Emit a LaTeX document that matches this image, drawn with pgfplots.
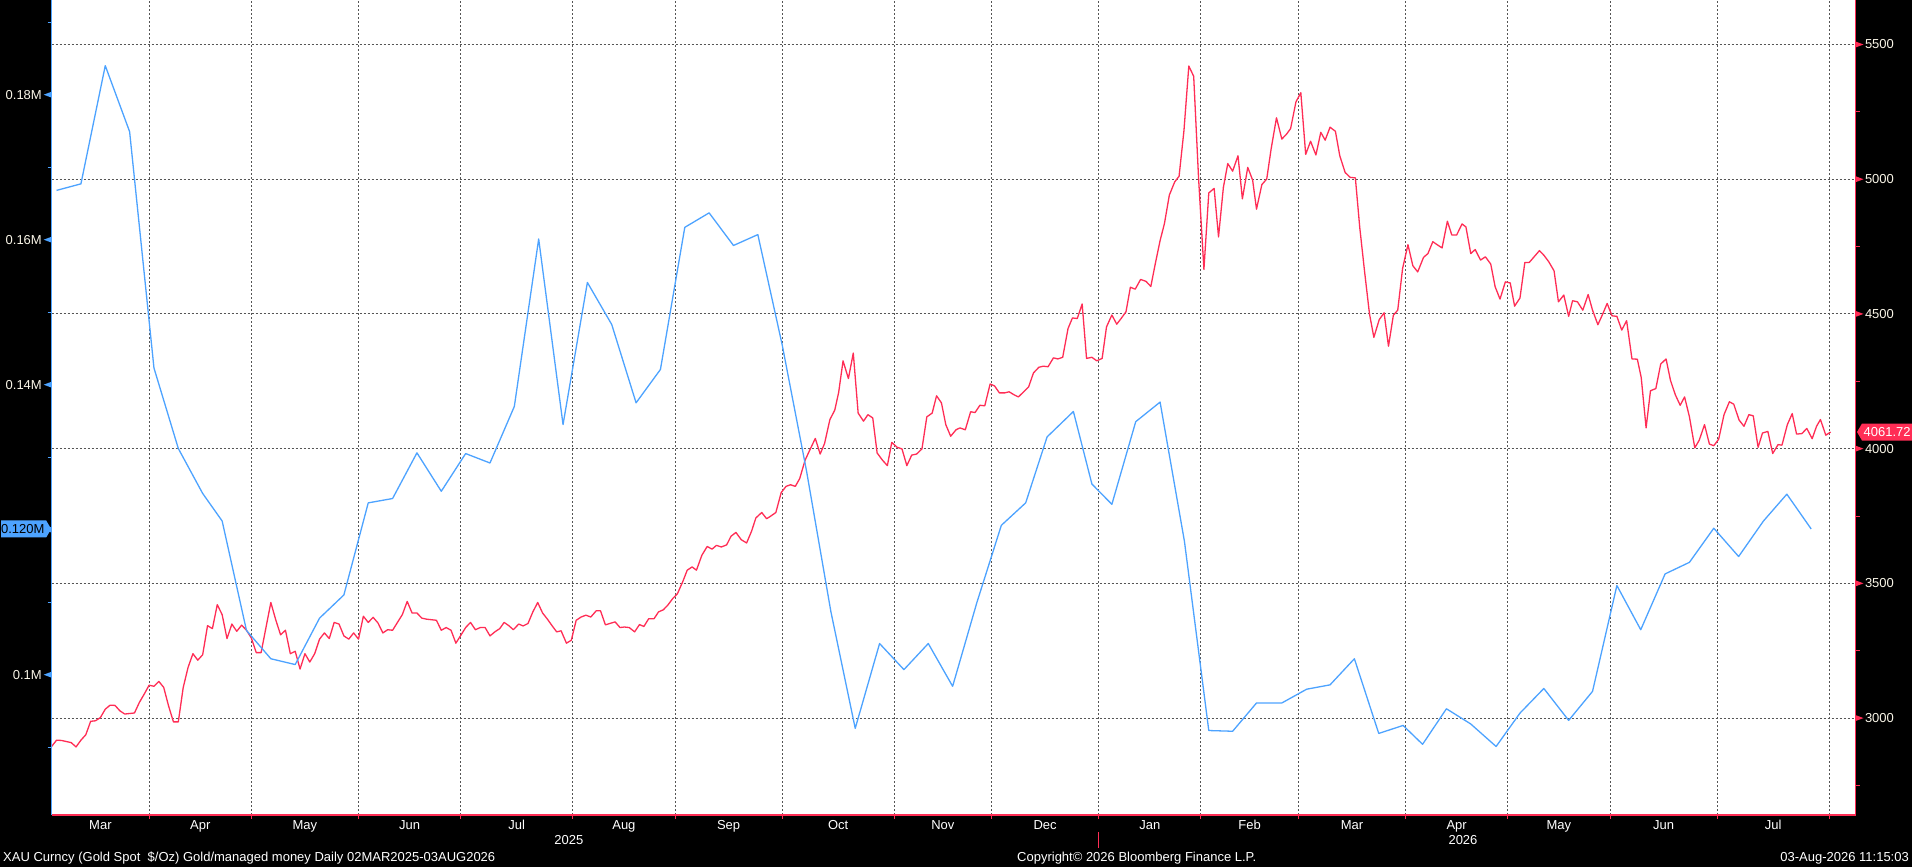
\documentclass[border=0pt]{standalone}
\usepackage{fontspec}
\setmainfont{Liberation Sans}
\usepackage{pgfplots}
\usepackage{pgfplotstable}
\pgfplotsset{compat=1.18}
\definecolor{bblue}{RGB}{77,163,255}
\definecolor{bred}{RGB}{255,45,85}
\definecolor{gridc}{RGB}{85,85,85}
\definecolor{lblc}{RGB}{250,246,232}
\newcommand\bfnt{\fontsize{13}{15}\selectfont}

% Gold spot (XAU), x = trading-day index from 03 Mar 2025
\pgfplotstableread{
x y
0 2895
1 2918
2 2917
4 2909
5 2893
6 2918
7 2938
8 2988
9 2990
10 3002
11 3033
12 3048
13 3047
14 3027
15 3015
16 3017
17 3019
18 3058
19 3089
20 3122
21 3118
22 3136
23 3114
24 3045
25 2986
26 2986
27 3113
28 3188
29 3239
30 3215
31 3235
32 3343
33 3332
34 3421
35 3384
36 3295
37 3349
38 3322
39 3345
40 3326
41 3297
42 3243
43 3243
44 3336
45 3429
46 3365
47 3309
48 3326
49 3239
50 3248
51 3182
52 3239
53 3208
54 3239
55 3293
56 3316
57 3295
58 3355
59 3349
60 3305
61 3293
62 3316
63 3293
64 3378
65 3355
66 3374
67 3353
68 3316
69 3328
70 3326
71 3355
72 3384
73 3433
74 3390
75 3390
76 3371
77 3367
79 3363
80 3326
81 3336
82 3326
83 3278
84 3307
85 3336
86 3355
87 3328
88 3336
89 3336
90 3305
91 3320
92.0 3332
92.9 3355
93.8 3344
94.8 3328
95.9 3349
96.8 3342
97.8 3351
98.8 3394
99.8 3429
100.8 3390
101.8 3367
102.7 3344
103.7 3320
104.6 3324
105.7 3278
106.7 3289
107.7 3363
108.7 3375
109.7 3382
110.7 3375
111.8 3398
112.7 3398
113.7 3346
114.6 3351
115.7 3357
116.7 3336
117.6 3338
118.6 3336
119.7 3320
120.7 3347
121.6 3340
122.6 3369
123.7 3369
124.6 3394
125.6 3402
126.5 3419
127.5 3443
128.5 3462
129.6 3507
130.5 3549
131.5 3561
132.4 3549
133.5 3604
134.6 3637
135.6 3627
136.5 3641
137.5 3635
138.6 3643
139.5 3675
140.5 3689
141.6 3662
142.7 3650
143.7 3693
144.6 3743
145.8 3763
146.8 3740
147.6 3749
148.7 3763
149.8 3837
150.8 3860
151.7 3866
152.7 3860
153.6 3889
154.7 3957
155.7 3996
156.8 4038
157.8 3980
158.7 4019
159.8 4108
160.8 4143
161.6 4209
162.5 4326
163.6 4260
164.6 4355
165.6 4132
166.7 4102
167.6 4126
168.6 4114
169.5 3984
170.6 3957
171.6 3937
172.5 4023
173.6 4005
174.6 3999
175.6 3937
176.6 3976
177.6 3980
178.7 3999
179.7 4118
180.8 4132
181.7 4196
182.7 4170
183.6 4089
184.6 4046
185.7 4070
186.5 4077
187.6 4070
188.7 4137
189.6 4134
190.6 4161
191.6 4159
192.7 4240
193.6 4233
194.6 4207
195.7 4207
196.6 4211
197.6 4200
198.5 4192
199.6 4211
200.6 4229
201.6 4281
202.7 4302
203.6 4306
204.6 4304
205.7 4337
206.6 4333
207.6 4339
208.7 4446
209.6 4485
210.6 4483
211.6 4537
212.5 4335
213.6 4339
214.6 4326
215.7 4335
216.6 4452
217.7 4496
218.7 4462
219.6 4483
220.6 4508
221.5 4599
222.5 4592
223.6 4628
224.7 4621
225.7 4602
226.6 4685
227.6 4772
228.5 4836
229.5 4941
230.6 4990
231.5 5011
232.5 5180
233.5 5420
234.5 5382
235.5 5005
236.6 4665
237.6 4949
238.7 4966
239.6 4786
240.6 4970
241.5 5058
242.5 5030
243.6 5087
244.5 4927
245.6 5044
246.6 4997
247.4 4889
248.5 4980
249.5 5001
250.4 5112
251.5 5228
252.6 5149
253.6 5168
254.4 5188
255.5 5287
256.5 5321
257.5 5092
258.5 5141
259.6 5090
260.6 5174
261.5 5145
262.5 5193
263.6 5178
264.5 5087
265.6 5025
266.6 5007
267.7 5005
268.6 4821
269.6 4656
270.6 4500
271.5 4413
272.6 4479
273.6 4504
274.5 4380
275.5 4495
276.4 4514
277.4 4669
278.5 4757
279.5 4679
280.5 4656
281.7 4710
282.6 4724
283.6 4768
284.5 4757
285.5 4745
286.6 4844
287.5 4793
288.5 4793
289.6 4834
290.4 4823
291.4 4724
292.3 4739
293.4 4700
294.4 4712
295.5 4685
296.4 4601
297.4 4555
298.5 4619
299.5 4615
300.4 4529
301.5 4559
302.5 4691
303.4 4691
304.5 4714
305.5 4735
306.4 4718
307.4 4694
308.5 4660
309.4 4545
310.5 4570
311.5 4491
312.3 4549
313.3 4545
314.4 4514
315.5 4572
316.4 4514
317.5 4460
318.5 4500
319.4 4539
320.4 4493
321.4 4491
322.4 4440
323.4 4475
324.5 4333
325.6 4332
326.4 4264
327.4 4077
328.3 4215
329.4 4223
330.4 4314
331.5 4333
332.4 4254
333.4 4200
334.4 4161
335.3 4192
336.3 4118
337.4 4003
338.3 4031
339.4 4089
340.4 4017
341.3 4011
342.3 4035
343.4 4126
344.5 4174
345.4 4165
346.5 4106
347.5 4083
348.5 4126
349.4 4122
350.4 4005
351.3 4058
352.4 4064
353.4 3982
354.5 4015
355.3 4013
356.4 4089
357.4 4130
358.3 4054
359.4 4056
360.4 4075
361.5 4037
362.4 4083
363.2 4108
364.3 4050
365.3 4061.72
}\goldtab

% Gold managed money (millions of contracts), weekly
\pgfplotstableread{
x y
1 0.1668
6 0.1677
11 0.1840
16 0.1749
21 0.1423
26 0.1312
31 0.1250
35 0.1212
40 0.1061
45 0.1022
50 0.1014
55 0.1078
60 0.1110
65 0.1237
70 0.1243
75 0.1306
80 0.1253
85 0.1305
90 0.1292
95 0.1370
100 0.1601
105 0.1345
110 0.1541
115 0.1483
120 0.1375
125 0.1421
130 0.1617
135 0.1637
140 0.1592
145 0.1607
150 0.1455
155 0.1281
160 0.1087
165 0.0926
170 0.1043
175 0.1007
180 0.1043
185 0.0984
190 0.1100
195 0.1206
200 0.1237
204.4 0.1328
209.8 0.1363
213.6 0.1263
217.7 0.1235
222.6 0.1349
227.6 0.1376
232.6 0.1184
237.6 0.0923
242.5 0.0922
247.4 0.0961
252.6 0.0961
257.7 0.0980
262.5 0.0986
267.5 0.1022
272.5 0.0919
277.5 0.0930
281.5 0.0904
286.4 0.0953
291.4 0.0932
296.6 0.0901
301.5 0.0947
306.4 0.0981
311.5 0.0937
316.4 0.0977
321.4 0.1123
326.3 0.1062
331.3 0.1139
336.3 0.1155
341.3 0.1202
346.4 0.1163
351.5 0.1212
356.3 0.1249
361.3 0.1201
}\mmtab

\begin{document}
\begin{tikzpicture}[x=1pt,y=1pt]
\useasboundingbox (0,0) rectangle (1912,867);
\fill[black] (0,0) rectangle (1912,867);

% ---- right axis: gold spot (red) ----
\begin{axis}[
  at={(51.7pt,52pt)}, anchor=south west, scale only axis,
  width=1803.8pt, height=815pt,
  xmin=0, xmax=370.4, ymin=2640.3, ymax=5665.2,
  axis background/.style={fill=white},
  axis line style={draw=none},
  clip=false,
  xtick={20,41,63,84,107,128,150,173,193,215,236,256,278,299,320,342,365},
  xticklabels={},
  xtick pos=bottom,
  xmajorgrids, ymajorgrids,
  grid style={gridc, line width=1pt, dash pattern=on 2pt off 2pt},
  ytick={3000,3500,4000,4500,5000,5500},
  yticklabels={3000,3500,4000,4500,5000,5500},
  minor ytick={2750,3250,3750,4250,4750,5250},
  ytick pos=right, yticklabel pos=right,
  tick align=outside,
  major tick length=4pt, minor tick length=4pt,
  tick style={bred, line width=1pt},
  yticklabel style={font=\bfnt, text=lblc, anchor=west, inner sep=0pt, xshift=5.3pt},
  scaled y ticks=false,
]
\addplot[bred, line width=1.3pt, line join=round, no markers] table[x=x,y=y] {\goldtab};
\draw[bred, line width=1.4pt] (rel axis cs:0,0) -- (rel axis cs:1,0) -- (rel axis cs:1,1);
% tick pointers
\fill[bred] (axis cs:370.4,3000) ++(0pt,3pt) -- ++(8pt,-3pt) -- ++(-8pt,-3pt) -- cycle;
\fill[bred] (axis cs:370.4,3500) ++(0pt,3pt) -- ++(8pt,-3pt) -- ++(-8pt,-3pt) -- cycle;
\fill[bred] (axis cs:370.4,4000) ++(0pt,3pt) -- ++(8pt,-3pt) -- ++(-8pt,-3pt) -- cycle;
\fill[bred] (axis cs:370.4,4500) ++(0pt,3pt) -- ++(8pt,-3pt) -- ++(-8pt,-3pt) -- cycle;
\fill[bred] (axis cs:370.4,5000) ++(0pt,3pt) -- ++(8pt,-3pt) -- ++(-8pt,-3pt) -- cycle;
\fill[bred] (axis cs:370.4,5500) ++(0pt,3pt) -- ++(8pt,-3pt) -- ++(-8pt,-3pt) -- cycle;
% last value tag
\fill[bred] (axis cs:370.4,4061.72) ++(1.5pt,0pt) -- ++(5pt,8.5pt) -- ++(70pt,0pt) -- ++(0pt,-17pt) -- ++(-70pt,0pt) -- cycle;
\node[anchor=west, text=white, font=\bfnt, inner sep=0pt] at ([xshift=8pt]axis cs:370.4,4061.72) {4061.72};
% month labels
\node[anchor=base, yshift=-15pt, font=\bfnt, text=white] at (axis cs:10,2640.3) {Mar};
\node[anchor=base, yshift=-15pt, font=\bfnt, text=white] at (axis cs:30.5,2640.3) {Apr};
\node[anchor=base, yshift=-15pt, font=\bfnt, text=white] at (axis cs:52,2640.3) {May};
\node[anchor=base, yshift=-15pt, font=\bfnt, text=white] at (axis cs:73.5,2640.3) {Jun};
\node[anchor=base, yshift=-15pt, font=\bfnt, text=white] at (axis cs:95.5,2640.3) {Jul};
\node[anchor=base, yshift=-15pt, font=\bfnt, text=white] at (axis cs:117.5,2640.3) {Aug};
\node[anchor=base, yshift=-15pt, font=\bfnt, text=white] at (axis cs:139,2640.3) {Sep};
\node[anchor=base, yshift=-15pt, font=\bfnt, text=white] at (axis cs:161.5,2640.3) {Oct};
\node[anchor=base, yshift=-15pt, font=\bfnt, text=white] at (axis cs:183,2640.3) {Nov};
\node[anchor=base, yshift=-15pt, font=\bfnt, text=white] at (axis cs:204,2640.3) {Dec};
\node[anchor=base, yshift=-15pt, font=\bfnt, text=white] at (axis cs:225.5,2640.3) {Jan};
\node[anchor=base, yshift=-15pt, font=\bfnt, text=white] at (axis cs:246,2640.3) {Feb};
\node[anchor=base, yshift=-15pt, font=\bfnt, text=white] at (axis cs:267,2640.3) {Mar};
\node[anchor=base, yshift=-15pt, font=\bfnt, text=white] at (axis cs:288.5,2640.3) {Apr};
\node[anchor=base, yshift=-15pt, font=\bfnt, text=white] at (axis cs:309.5,2640.3) {May};
\node[anchor=base, yshift=-15pt, font=\bfnt, text=white] at (axis cs:331,2640.3) {Jun};
\node[anchor=base, yshift=-15pt, font=\bfnt, text=white] at (axis cs:353.5,2640.3) {Jul};
% years
\node[anchor=base, yshift=-30pt, font=\bfnt, text=white] at (axis cs:106.2,2640.3) {2025};
\node[anchor=base, yshift=-30pt, font=\bfnt, text=white] at (axis cs:289.8,2640.3) {2026};
\draw[bred, line width=1pt] (axis cs:215,2640.3) ++(0pt,-17pt) -- ++(0pt,-16pt);
\end{axis}

% ---- left axis: managed money (blue) ----
\begin{axis}[
  at={(51.7pt,52pt)}, anchor=south west, scale only axis,
  width=1803.8pt, height=815pt,
  xmin=0, xmax=370.4, ymin=0.08065, ymax=0.19306,
  axis line style={draw=none},
  clip=false,
  xtick=\empty,
  ytick={0.1,0.12,0.14,0.16,0.18},
  yticklabels={0.1M,,0.14M,0.16M,0.18M},
  minor ytick={0.09,0.11,0.13,0.15,0.17,0.19},
  ytick pos=left, yticklabel pos=left,
  tick align=outside,
  major tick length=4pt, minor tick length=4pt,
  tick style={bblue, line width=1pt},
  yticklabel style={font=\bfnt, text=lblc, anchor=east, inner sep=0pt, xshift=-5.7pt},
  scaled y ticks=false,
]
\addplot[bblue, line width=1.3pt, line join=round, no markers] table[x=x,y=y] {\mmtab};
\draw[bblue, line width=1.4pt] (rel axis cs:0,0) -- (rel axis cs:0,1);
\fill[bblue] (axis cs:0,0.10) ++(0pt,3pt) -- ++(-8pt,-3pt) -- ++(8pt,-3pt) -- cycle;
\fill[bblue] (axis cs:0,0.12) ++(0pt,3pt) -- ++(-8pt,-3pt) -- ++(8pt,-3pt) -- cycle;
\fill[bblue] (axis cs:0,0.14) ++(0pt,3pt) -- ++(-8pt,-3pt) -- ++(8pt,-3pt) -- cycle;
\fill[bblue] (axis cs:0,0.16) ++(0pt,3pt) -- ++(-8pt,-3pt) -- ++(8pt,-3pt) -- cycle;
\fill[bblue] (axis cs:0,0.18) ++(0pt,3pt) -- ++(-8pt,-3pt) -- ++(8pt,-3pt) -- cycle;
% last value tag
\fill[bblue] (axis cs:0,0.1201) ++(-0.5pt,0pt) -- ++(-5pt,8.5pt) -- ++(-45pt,0pt) -- ++(0pt,-17pt) -- ++(45pt,0pt) -- cycle;
\node[anchor=east, text=black, font=\bfnt, inner sep=0pt] at ([xshift=-7pt]axis cs:0,0.1201) {0.120M};
\end{axis}

% ---- footer ----
\node[anchor=base west, font=\bfnt, text=white, inner sep=0pt] at (3,5) {XAU Curncy (Gold Spot\ \ \$/Oz) Gold/managed money Daily 02MAR2025-03AUG2026};
\node[anchor=base west, font=\bfnt, text=white, inner sep=0pt] at (1017,5) {Copyright© 2026 Bloomberg Finance L.P.};
\node[anchor=base east, font=\bfnt, text=white, inner sep=0pt] at (1909,5) {03-Aug-2026 11:15:03};
\end{tikzpicture}
\end{document}
